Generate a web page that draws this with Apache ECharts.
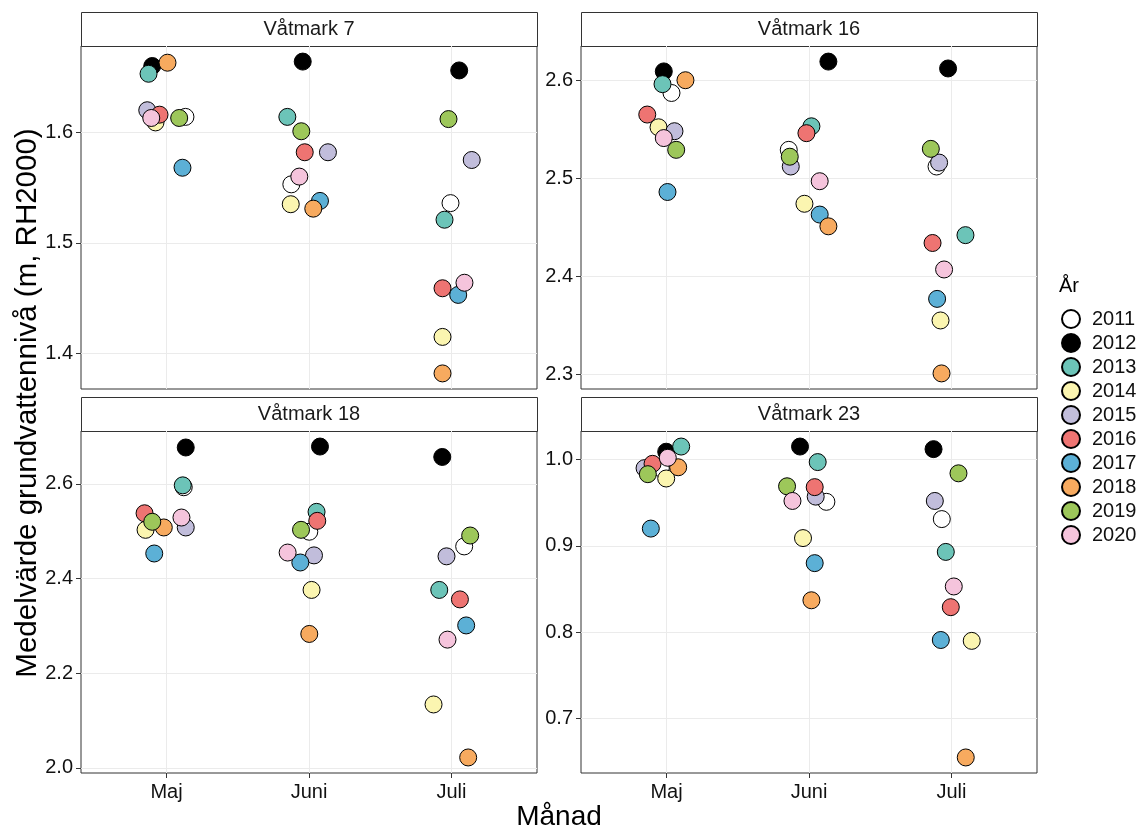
<!DOCTYPE html>
<html><head><meta charset="utf-8">
<script src="https://cdn.jsdelivr.net/npm/echarts@6/dist/echarts.min.js"></script>
<style>html,body{margin:0;padding:0;background:#fff}#c{width:1144px;height:829px}</style>
</head><body><div id="c"></div>
<script>
// ---------- data ----------
const months = ['Maj', 'Juni', 'Juli'];
const years = ['2011','2012','2013','2014','2015','2016','2017','2018','2019','2020'];
const yearColors = ['#ffffff','#000000','#6cc4b8','#fbf5b0','#c1bddb','#ee7472','#5cb0d6','#f7aa5f','#9dc75a','#f5c4dc'];
const panelTitles = ['Våtmark 7', 'Våtmark 16', 'Våtmark 18', 'Våtmark 23'];

const ticksVm7 = [1.4, 1.5, 1.6];
const ticksVm16 = [2.3, 2.4, 2.5, 2.6];
const ticksVm18 = [2.0, 2.2, 2.4, 2.6];
const ticksVm23 = [0.7, 0.8, 0.9, 1.0];

// rows: Maj, Juni, Juli ; columns: years 2011..2020
const levelVm7 = [
  [1.614, 1.660, 1.653, 1.609, 1.620, 1.616, 1.568, 1.663, 1.613, 1.613],
  [1.553, 1.664, 1.614, 1.535, 1.582, 1.582, 1.538, 1.531, 1.601, 1.560],
  [1.536, 1.656, 1.521, 1.415, 1.575, 1.459, 1.453, 1.382, 1.612, 1.464]
];
const jitterVm7 = [
  [0.133, -0.100, -0.126, -0.077, -0.135, -0.049, 0.112, 0.007, 0.089, -0.107],
  [-0.124, -0.044, -0.152, -0.128, 0.133, -0.030, 0.077, 0.030, -0.054, -0.068],
  [-0.007, 0.054, -0.049, -0.063, 0.142, -0.063, 0.047, -0.063, -0.021, 0.091]
];
const levelVm16 = [
  [2.587, 2.609, 2.596, 2.552, 2.548, 2.565, 2.486, 2.600, 2.529, 2.541],
  [2.529, 2.619, 2.553, 2.474, 2.512, 2.546, 2.463, 2.451, 2.522, 2.497],
  [2.512, 2.612, 2.442, 2.355, 2.516, 2.434, 2.377, 2.301, 2.530, 2.407]
];
const jitterVm16 = [
  [0.035, -0.019, -0.028, -0.056, 0.056, -0.135, 0.007, 0.133, 0.068, -0.019],
  [-0.142, 0.136, 0.017, -0.032, -0.128, -0.018, 0.075, 0.136, -0.135, 0.075],
  [-0.105, -0.024, 0.098, -0.077, -0.087, -0.133, -0.101, -0.070, -0.145, -0.052]
];
const levelVm18 = [
  [2.593, 2.677, 2.597, 2.503, 2.508, 2.538, 2.453, 2.508, 2.520, 2.529],
  [2.499, 2.679, 2.541, 2.376, 2.449, 2.522, 2.434, 2.283, 2.503, 2.455],
  [2.468, 2.657, 2.376, 2.134, 2.447, 2.356, 2.301, 2.022, 2.491, 2.271]
];
const jitterVm18 = [
  [0.121, 0.135, 0.114, -0.147, 0.135, -0.154, -0.086, -0.019, -0.100, 0.105],
  [0.002, 0.077, 0.053, 0.018, 0.035, 0.058, -0.061, 0.002, -0.056, -0.150],
  [0.089, -0.065, -0.086, -0.126, -0.035, 0.059, 0.103, 0.117, 0.131, -0.028]
];
const levelVm23 = [
  [0.990, 1.009, 1.015, 0.978, 0.990, 0.995, 0.920, 0.991, 0.983, 1.002],
  [0.951, 1.015, 0.997, 0.909, 0.957, 0.968, 0.880, 0.837, 0.969, 0.952],
  [0.931, 1.012, 0.893, 0.790, 0.952, 0.829, 0.791, 0.655, 0.984, 0.853]
];
const jitterVm23 = [
  [-0.040, -0.002, 0.103, -0.002, -0.154, -0.098, -0.110, 0.082, -0.131, 0.009],
  [0.122, -0.063, 0.061, -0.042, 0.047, 0.040, 0.040, 0.017, -0.154, -0.116],
  [-0.068, -0.126, -0.040, 0.142, -0.117, -0.005, -0.075, 0.100, 0.049, 0.016]
];

// ---------- build ----------
const FONT = 'Liberation Sans, Arial, sans-serif';
const panelsLevel = [levelVm7, levelVm16, levelVm18, levelVm23];
const panelsJitter = [jitterVm7, jitterVm16, jitterVm18, jitterVm23];
const panelsTicks = [ticksVm7, ticksVm16, ticksVm18, ticksVm23];
const layout = [
  {left: 81, top: 46, width: 456, height: 343},
  {left: 581, top: 46, width: 456, height: 343},
  {left: 81, top: 431, width: 456, height: 342},
  {left: 581, top: 431, width: 456, height: 342}
];
const stripH = 34;

const grids = [], xAxes = [], yAxes = [], series = [], graphics = [];
panelsLevel.forEach((lev, p) => {
  const L = layout[p];
  grids.push({left: L.left, top: L.top, width: L.width, height: L.height, show: true,
    borderColor: '#333', borderWidth: 1, backgroundColor: 'transparent'});
  const bottom = p >= 2;
  xAxes.push({type: 'value', gridIndex: p, min: 0.4, max: 3.6,
    axisLine: {show: false},
    axisTick: {show: bottom, customValues: [1, 2, 3], length: 5, lineStyle: {color: '#333'}},
    axisLabel: {show: bottom, customValues: [1, 2, 3], margin: 9, color: '#111', fontSize: 20, fontFamily: FONT,
      formatter: v => months[Math.round(v) - 1] || ''},
    splitLine: {show: true, lineStyle: {color: '#ebebeb', width: 1}}
  });
  const all = lev.flat();
  const lo = Math.min(...all), hi = Math.max(...all), pad = (hi - lo) * 0.05;
  const ticks = panelsTicks[p];
  yAxes.push({type: 'value', gridIndex: p, min: lo - pad, max: hi + pad,
    axisLine: {show: false},
    axisTick: {show: true, customValues: ticks, length: 5, lineStyle: {color: '#333'}},
    axisLabel: {show: true, customValues: ticks, margin: 8, color: '#111', fontSize: 20, fontFamily: FONT,
      formatter: v => v.toFixed(1)},
    splitLine: {show: true, lineStyle: {color: '#ebebeb', width: 1}}
  });
  years.forEach((yr, yi) => {
    series.push({type: 'scatter', name: yr, xAxisIndex: p, yAxisIndex: p,
      symbol: 'circle', symbolSize: 17,
      itemStyle: {color: yearColors[yi], borderColor: '#000', borderWidth: 1, opacity: 1},
      emphasis: {disabled: true},
      data: months.map((m, mi) => [mi + 1 + panelsJitter[p][mi][yi], lev[mi][yi]])
    });
  });
  graphics.push({type: 'rect', left: L.left, top: L.top - stripH,
    shape: {width: L.width, height: stripH},
    style: {fill: '#fff', stroke: '#333', lineWidth: 1}});
  graphics.push({type: 'text', x: L.left + L.width / 2, y: L.top - stripH / 2,
    style: {text: panelTitles[p], font: '20px ' + FONT, fill: '#1a1a1a', textAlign: 'center', textVerticalAlign: 'middle'}});
});

graphics.push({type: 'text', x: 28, y: 403, rotation: Math.PI / 2,
  style: {text: 'Medelvärde grundvattennivå (m, RH2000)', font: '29.5px ' + FONT, fill: '#000', textAlign: 'center', textVerticalAlign: 'middle'}});
graphics.push({type: 'text', x: 559, y: 817,
  style: {text: 'Månad', font: '28px ' + FONT, fill: '#000', textAlign: 'center', textVerticalAlign: 'middle'}});
graphics.push({type: 'text', x: 1059, y: 286,
  style: {text: 'År', font: '20px ' + FONT, fill: '#000', textAlign: 'left', textVerticalAlign: 'middle'}});

const chart = echarts.init(document.getElementById('c'), null, {renderer: 'canvas'});
chart.setOption({
  animation: false,
  backgroundColor: '#fff',
  grid: grids, xAxis: xAxes, yAxis: yAxes, series: series,
  legend: {data: years, orient: 'vertical', left: 1056, top: 304, itemWidth: 32, itemHeight: 18, itemGap: 4,
    icon: 'circle', selectedMode: false,
    textStyle: {fontSize: 20, fontFamily: FONT, color: '#111'}},
  graphic: graphics
});
</script></body></html>
